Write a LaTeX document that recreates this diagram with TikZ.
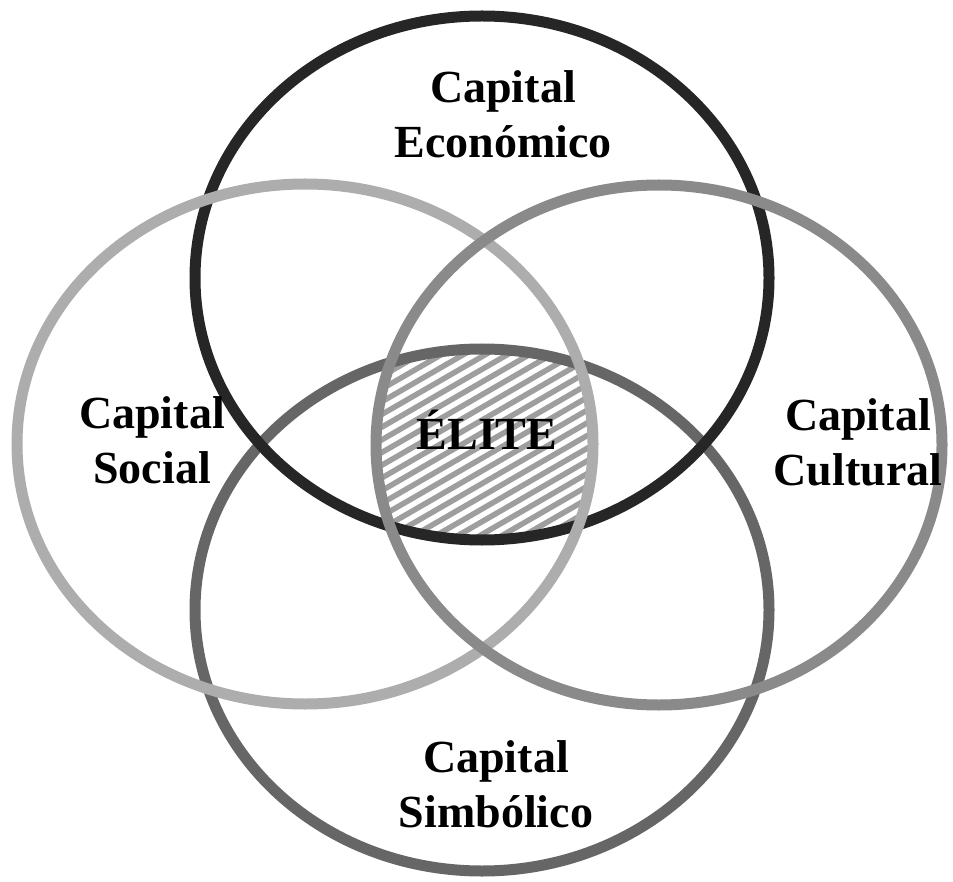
\documentclass[tikz,border=0pt]{standalone}
\usepackage{fontspec}
\setmainfont{Liberation Serif}
\begin{document}
\begin{tikzpicture}[x=1pt,y=-1pt,
  ring/.style={line width=11pt},
  lbl/.style={font=\fontsize{46}{55}\selectfont\bfseries, align=center, inner sep=0pt},
  hatchline/.style={draw=black!38, line width=5.5pt}]
\useasboundingbox (0,0) rectangle (953,882);
\fill[white] (0,0) rectangle (953,882);

% shared core of the four circles, hatched
\begin{scope}
  \clip (482,278) ellipse [x radius=287, y radius=262];
  \clip (482,610) ellipse [x radius=287, y radius=261];
  \clip (305,444) ellipse [x radius=288, y radius=260];
  \clip (659,445) ellipse [x radius=283, y radius=260];
  \foreach \b in {360,372.7,...,740}
    \draw[hatchline] (300,\b) -- (700,{\b-400*0.577});
\end{scope}

% the four circles
\draw[ring, draw=black!60] (482,610) ellipse [x radius=287, y radius=261];
\draw[ring, draw=black!85] (482,278) ellipse [x radius=287, y radius=262];
\draw[ring, draw=black!32] (305,444) ellipse [x radius=288, y radius=260];
\draw[ring, draw=black!46] (659,445) ellipse [x radius=283, y radius=260];

% labels
\node[lbl] (eco) at (503,114) {Capital\\Económico};
\node[lbl] (soc) at (152,440) {Capital\\Social};
\node[lbl] (cul) at (858,442) {Capital\\Cultural};
\node[lbl] (sim) at (496,784) {Capital\\Simbólico};
\node[lbl, anchor=base] (elite) at (487,449) {ÉLITE};
\end{tikzpicture}
\end{document}
